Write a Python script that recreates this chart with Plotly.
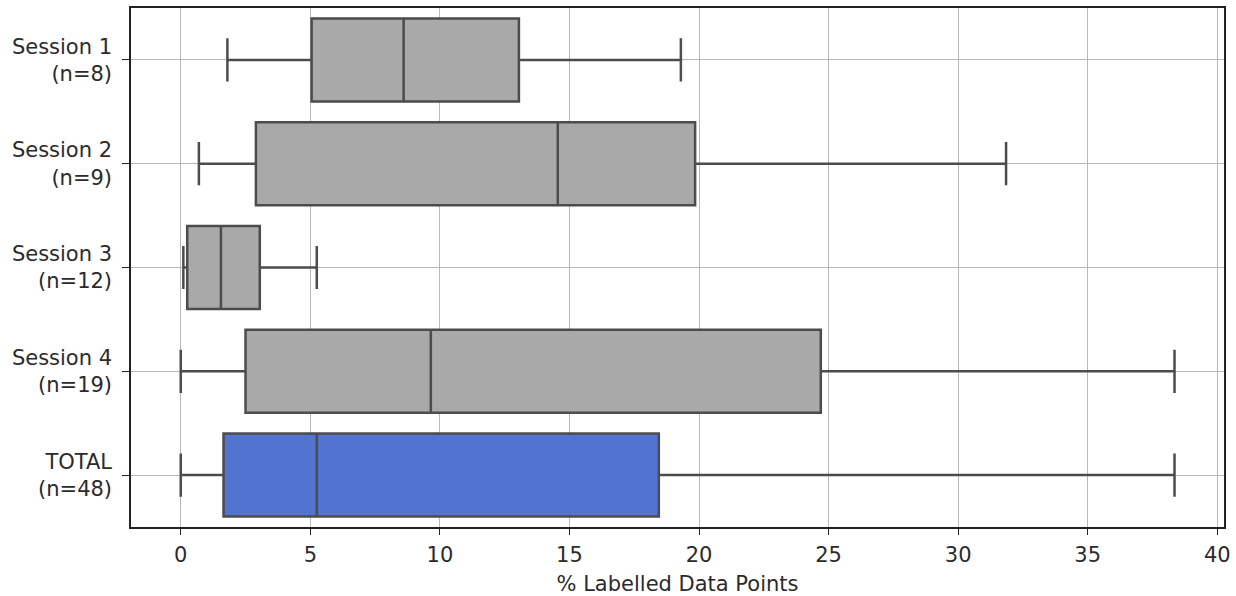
import plotly.graph_objects as go

# Summary statistics of % labelled data points per session
groups = ["Session 1<br>(n=8)", "Session 2<br>(n=9)", "Session 3<br>(n=12)",
          "Session 4<br>(n=19)", "TOTAL<br>(n=48)"]
lower = [1.8, 0.7, 0.1, 0.0, 0.0]
q1 = [5.05, 2.9, 0.25, 2.5, 1.65]
median = [8.6, 14.55, 1.55, 9.65, 5.25]
q3 = [13.05, 19.85, 3.05, 24.7, 18.45]
upper = [19.3, 31.85, 5.25, 38.35, 38.35]
fills = ["#a9a9a9", "#a9a9a9", "#a9a9a9", "#a9a9a9", "#5373d0"]

edge = "#4c4c4c"
text_col = "#2b2b2b"

fig = go.Figure()
for i, g in enumerate(groups):
    fig.add_trace(go.Box(
        y=[g], q1=[q1[i]], median=[median[i]], q3=[q3[i]],
        lowerfence=[lower[i]], upperfence=[upper[i]],
        orientation="h", width=0.8, whiskerwidth=0.52,
        fillcolor=fills[i], line=dict(color=edge, width=2.5),
        boxpoints=False, showlegend=False,
    ))

fig.update_layout(
    width=1236, height=596,
    margin=dict(l=131, r=12, t=8, b=69),
    paper_bgcolor="white", plot_bgcolor="white",
    boxmode="overlay",
    font=dict(family="DejaVu Sans", size=21, color=text_col),
    xaxis=dict(
        range=[-1.92, 40.26], tickvals=list(range(0, 45, 5)),
        showgrid=True, gridcolor="#b8b8b8", gridwidth=1,
        zeroline=False, showline=True, linecolor="#222", linewidth=1.5,
        mirror=True, ticks="outside", ticklen=6, tickcolor="#222",
        tickfont=dict(size=21), ticklabelstandoff=2, automargin=False,
        title=dict(text="% Labelled Data Points", font=dict(size=21), standoff=10),
    ),
    yaxis=dict(
        type="category", categoryorder="array", categoryarray=groups,
        range=[4.5, -0.5],
        showgrid=True, gridcolor="#b8b8b8", gridwidth=1,
        zeroline=False, showline=True, linecolor="#222", linewidth=1.5,
        mirror=True, ticks="outside", ticklen=7, tickcolor="#222",
        tickfont=dict(size=21), ticklabelstandoff=6, automargin=False,
    ),
)

fig.write_html("out.html")
